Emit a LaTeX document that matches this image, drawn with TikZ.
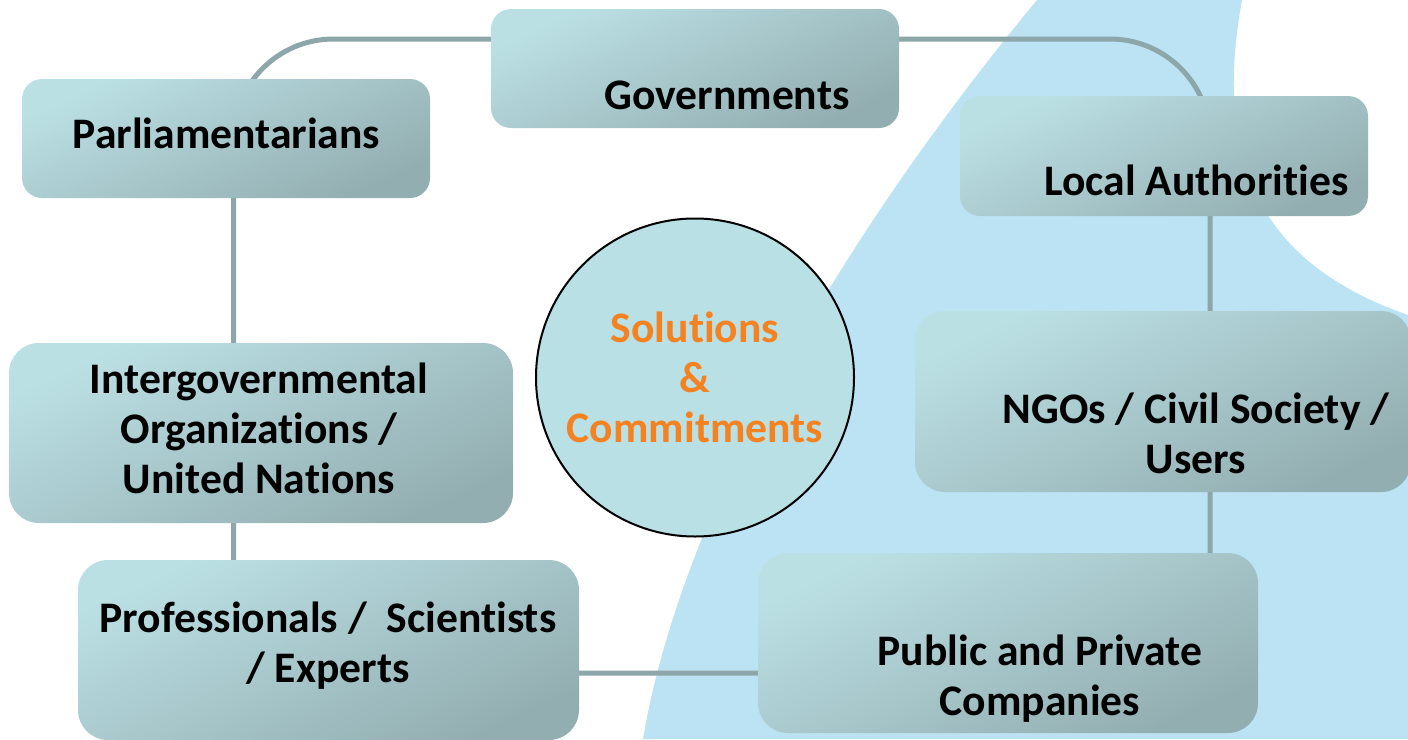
\documentclass[tikz,border=0pt]{standalone}
\usepackage{fontspec}
\setmainfont{Carlito}[Ligatures=CommonOff]
\usepackage{tikz}

\definecolor{wave}{RGB}{188,227,244}
\definecolor{boxtop}{RGB}{187,224,228}
\definecolor{boxbot}{RGB}{147,174,177}
\definecolor{ringline}{RGB}{140,166,169}
\definecolor{hubfill}{RGB}{185,224,228}
\definecolor{accent}{RGB}{245,130,32}

\tikzset{
  stake/.style={rectangle, rounded corners=#1, inner sep=0pt,
    top color=boxtop, bottom color=boxbot, shading angle=25},
  stake/.default=10pt,
  actortext/.style={font=\bfseries\fontsize{21.8}{25}\selectfont,
    align=center, anchor=base, inner sep=0pt},
  link/.style={draw=ringline, line width=2.5pt}
}

\begin{document}
\begin{tikzpicture}[x=0.5pt,y=-0.5pt]
  \useasboundingbox (0,0) rectangle (1408,739);
  \clip (0,0) rectangle (1408,739);
  % light blue wave behind
  \fill[wave] (643,739) .. controls (680,520) and (830,250) .. (1037,0)
    -- (1242,0) .. controls (1215,150) and (1250,260) .. (1408,315)
    -- (1408,739) -- cycle;
  % ring joining the actors
  \coordinate (ringnw) at (233.5,39);
  \coordinate (ringse) at (1210,673);
  \draw[link, rounded corners=50pt] (ringnw) rectangle (ringse);

  \node[stake, minimum width=204pt, minimum height=59.5pt] (gov) at (695,68.5) {};
  \node[stake, minimum width=204pt, minimum height=59.5pt] (parl) at (226,138.5) {};
  \node[stake, minimum width=204pt, minimum height=60pt] (local) at (1164,156) {};
  \node[stake=15pt, minimum width=252pt, minimum height=90pt] (igo) at (261,433) {};
  \node[stake=15pt, minimum width=248pt, minimum height=90.5pt] (ngo) at (1163,401.5) {};
  \node[stake=15pt, minimum width=250.5pt, minimum height=90pt] (prof) at (328.5,650) {};
  \node[stake=15pt, minimum width=250pt, minimum height=90pt] (pub) at (1008,643) {};

  % labels sit on the baseline of their last line
  \node[actortext] (govtext) at (727,109) {Governments};
  \node[actortext] (parltext) at (226.5,148) {Parliamentarians};
  \node[actortext] (localtext) at (1196.5,195) {Local Authorities};
  \node[actortext] (igotext) at (259,493) {Intergovernmental\\Organizations /\\United Nations};
  \node[actortext] (ngotext) at (1196,473) {NGOs / Civil Society /\\Users};
  \node[actortext] (proftext) at (328,682) {Professionals /~~Scientists\\/ Experts};
  \node[actortext] (pubtext) at (1040,715) {Public and Private\\Companies};

  % centre
  \node[circle, draw=black, line width=1pt, fill=hubfill, minimum size=159pt,
    inner sep=0pt] (hub) at (695,377.5) {};
  \node[actortext, text=accent] (hubtext) at (695,442) {Solutions\\\&\\Commitments};
\end{tikzpicture}
\end{document}
